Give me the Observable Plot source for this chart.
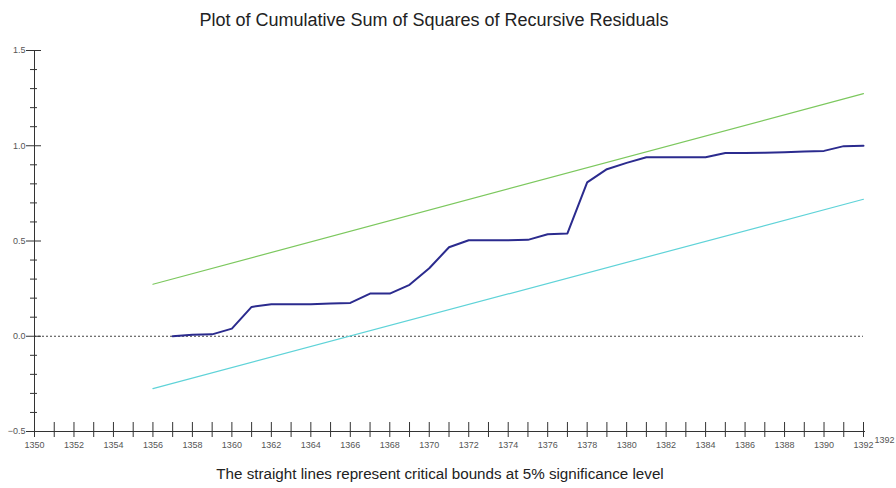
<!DOCTYPE html>
<html><head><meta charset="utf-8">
<script src="https://cdn.jsdelivr.net/npm/d3@7"></script>
<script src="https://cdn.jsdelivr.net/npm/@observablehq/plot@0.6"></script>
<style>
body{margin:0;background:#fff;width:896px;height:488px;overflow:hidden;font-family:"Liberation Sans",Arial,sans-serif;}
#title{box-sizing:border-box;height:36px;padding-top:10px;padding-right:28px;font-size:18px;line-height:20px;text-align:center;color:#222;white-space:nowrap;}
#caption{box-sizing:border-box;height:28px;padding-top:6px;padding-right:16px;font-size:15.2px;line-height:16px;text-align:center;color:#222;white-space:nowrap;}
</style></head><body>
<div id="title">Plot of Cumulative Sum of Squares of Recursive Residuals</div>
<div id="chart"></div>
<div id="caption">The straight lines represent critical bounds at 5% significance level</div>
<script>
const years = [1357,1358,1359,1360,1361,1362,1363,1364,1365,1366,1367,1368,1369,1370,1371,1372,1373,1374,1375,1376,1377,1378,1379,1380,1381,1382,1383,1384,1385,1386,1387,1388,1389,1390,1391,1392];
const cusumsq = [0.0,0.008,0.01,0.04,0.154,0.168,0.168,0.168,0.172,0.175,0.224,0.224,0.27,0.357,0.467,0.504,0.504,0.504,0.506,0.535,0.54,0.808,0.877,0.91,0.94,0.94,0.94,0.94,0.962,0.962,0.963,0.966,0.97,0.973,0.998,1.0];
const boundYears = [1356, 1392];
const upperBound = [0.273, 1.274];
const lowerBound = [-0.275, 0.719];
const xTickYears = d3.range(1350, 1393);
const xLabelYears = d3.range(1350, 1393, 2);
const yMajorTicks = [-0.5, 0, 0.5, 1.0, 1.5];
const yMinorTicks = [-0.4,-0.3,-0.2,-0.1,0.1,0.2,0.3,0.4,0.6,0.7,0.8,0.9,1.1,1.2,1.3,1.4];
const extraLabel = ["1392"];

const series = years.map((y, i) => ({year: y, value: cusumsq[i]}));
const upper = boundYears.map((y, i) => ({year: y, value: upperBound[i]}));
const lower = boundYears.map((y, i) => ({year: y, value: lowerBound[i]}));

const axisColor = "#333";
const chart = Plot.plot({
  width: 896,
  height: 424,
  marginTop: 14,
  marginBottom: 29,
  marginLeft: 34,
  marginRight: 33,
  style: {fontFamily: "'Liberation Sans', Arial, sans-serif", fontSize: "9px", color: "#555", background: "white", overflow: "visible"},
  x: {domain: [1350, 1392]},
  y: {domain: [-0.5, 1.5]},
  marks: [
    Plot.ruleY([0], {stroke: "#444", strokeDasharray: "2,2", strokeWidth: 1}),
    Plot.line(upper, {x: "year", y: "value", stroke: "#7cc85e", strokeWidth: 1.2}),
    Plot.line(lower, {x: "year", y: "value", stroke: "#5fd3d8", strokeWidth: 1.2}),
    Plot.line(series, {x: "year", y: "value", stroke: "#2b2b8e", strokeWidth: 2}),
    Plot.ruleX([1350], {stroke: axisColor}),
    Plot.ruleY([-0.5], {stroke: axisColor, insetLeft: -6, insetRight: -2}),
    Plot.axisY({ticks: yMajorTicks, tickSize: 8, tickPadding: 1, tickFormat: d3.format(".1f"), stroke: axisColor, label: null}),
    Plot.axisY({ticks: yMajorTicks, tickSize: -7, tickFormat: () => "", stroke: axisColor, label: null}),
    Plot.axisY({ticks: yMinorTicks, tickSize: 4, tickFormat: () => "", stroke: axisColor, label: null}),
    Plot.axisY({ticks: yMinorTicks, tickSize: -3, tickFormat: () => "", stroke: axisColor, label: null}),
    Plot.axisX({ticks: xTickYears, tickSize: 6, tickFormat: () => "", stroke: axisColor, label: null}),
    Plot.axisX({ticks: xTickYears, tickSize: -9, tickFormat: () => "", stroke: axisColor, label: null}),
    Plot.axisX({ticks: xLabelYears, tickSize: 0, tickPadding: 10, tickFormat: d3.format("d"), label: null}),
    Plot.text(extraLabel, {x: () => 1392, y: () => -0.5, text: d => d, dx: 11, dy: 9, textAnchor: "start", fill: "#555", fontSize: 9})
  ]
});
document.getElementById("chart").appendChild(chart);
</script>
</body></html>
